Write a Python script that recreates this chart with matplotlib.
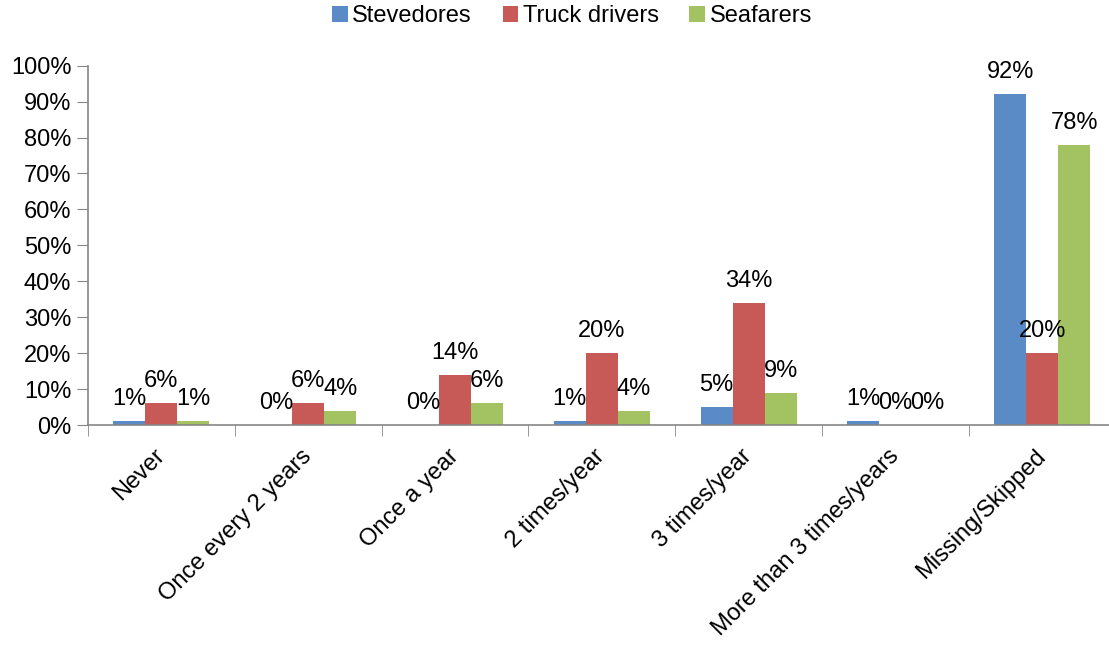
import numpy as np
import matplotlib
matplotlib.use("Agg")
import matplotlib.pyplot as plt

plt.rcParams['font.family'] = ['Liberation Sans', 'DejaVu Sans']

categories = ["Never", "Once every 2 years", "Once a year", "2 times/year",
              "3 times/year", "More than 3 times/years", "Missing/Skipped"]
stevedores = [1, 0, 0, 1, 5, 1, 92]
truck_drivers = [6, 6, 14, 20, 34, 0, 20]
seafarers = [1, 4, 6, 4, 9, 0, 78]

series = [("Stevedores", stevedores, "#5B8BC7"),
          ("Truck drivers", truck_drivers, "#C75A57"),
          ("Seafarers", seafarers, "#A3C262")]

fig = plt.figure(figsize=(11.09, 6.46), dpi=100)
cat_w = 146.8
ax = fig.add_axes([88 / 1109, (646 - 425) / 646, 7 * cat_w / 1109, (425 - 65.7) / 646])

x = np.arange(len(categories))
w = 0.218
fs = 17
for i, (name, vals, col) in enumerate(series):
    pos = x + (i - 1) * w
    bars = ax.bar(pos, vals, w, color=col, label=name)
    for xp, v in zip(pos, vals):
        ax.annotate(f"{v}%", (xp, v), xytext=(0, 8), textcoords="offset points",
                    ha="center", va="bottom", fontsize=fs)

ax.set_xlim(-0.5, len(categories) - 0.5)
ax.set_ylim(0, 100)
ax.set_yticks(np.arange(0, 101, 10))
ax.set_yticklabels([f"{t}%" for t in range(0, 101, 10)], fontsize=fs)
ax.set_xticks(x)
ax.set_xticklabels(categories, fontsize=fs, rotation=45, ha="right", va="center",
                   rotation_mode="anchor")
ax.set_xticks(np.arange(-0.5, len(categories), 1), minor=True)
ax.tick_params(axis="x", which="major", length=0, pad=20)
ax.tick_params(axis="x", which="minor", length=8, color="#868686", direction="out")
ax.tick_params(axis="y", length=8, color="#868686", direction="out", pad=4)

for s in ["top", "right"]:
    ax.spines[s].set_visible(False)
for s in ["left", "bottom"]:
    ax.spines[s].set_color("#868686")
    ax.spines[s].set_linewidth(1.2)

fig.legend(loc="center", bbox_to_anchor=(572 / 1109, 1 - 16 / 646), ncol=3,
           frameon=False, fontsize=fs, handlelength=0.65, handleheight=0.65,
           handletextpad=0.2, columnspacing=1.3, borderpad=0, borderaxespad=0)

fig.savefig("out.png", dpi=100)
